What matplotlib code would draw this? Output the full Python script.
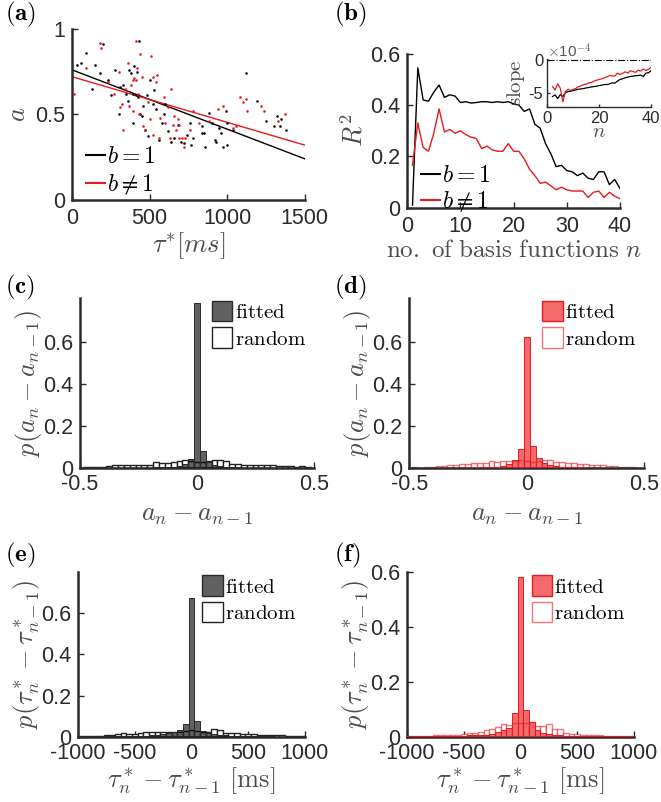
import numpy as np
import matplotlib
matplotlib.use("Agg")
import matplotlib.pyplot as plt
from matplotlib.patches import Patch
from matplotlib.lines import Line2D

plt.rcParams["mathtext.fontset"] = "cm"
plt.rcParams["font.family"] = ["Liberation Sans", "DejaVu Sans"]
plt.rcParams["axes.unicode_minus"] = False

TXT = "#2b2b2b"
LAB = "#4d4d4d"
RED = "#e8191f"

# ---- panel (a): scatter of a vs tau* ----
tau_b1 = [35, 60, 90, 150, 180, 130, 200, 230, 250, 280, 300, 310, 330, 350, 360, 370, 380, 390,
          395, 400, 410, 420, 425, 430, 440, 450, 460, 470, 480, 490, 500, 520, 530, 540, 560, 580,
          590, 600, 620, 640, 660, 680, 700, 720, 740, 760, 770, 780, 840, 850, 860, 880, 900, 920,
          930, 950, 960, 975, 990, 1000, 1040, 1120, 1190, 1250, 1300, 1320, 1340, 1350, 1380,
          1000, 840]
a_b1 = [0.79, 0.80, 0.86, 0.79, 0.74, 0.65, 0.91, 0.70, 0.61, 0.76, 0.50, 0.66, 0.67, 0.62, 0.58,
        0.76, 0.74, 0.62, 0.45, 0.78, 0.61, 0.75, 0.60, 0.93, 0.50, 0.49, 0.55, 0.41, 0.61, 0.37,
        0.70, 0.56, 0.64, 0.53, 0.35, 0.45, 0.50, 0.56, 0.40, 0.34, 0.36, 0.44, 0.34, 0.33, 0.38,
        0.45, 0.32, 0.36, 0.43, 0.39, 0.31, 0.51, 0.45, 0.35, 0.34, 0.42, 0.39, 0.31, 0.52, 0.32,
        0.41, 0.74, 0.58, 0.46, 0.43, 0.49, 0.43, 0.47, 0.41, 0.45, 0.39]
tau_bn = [10, 90, 180, 185, 230, 270, 300, 310, 320, 330, 340, 360, 370, 380, 390, 395, 400, 410,
          415, 420, 425, 430, 440, 450, 460, 470, 490, 500, 510, 520, 525, 540, 550, 560, 570, 590,
          600, 620, 630, 640, 650, 660, 670, 680, 690, 710, 720, 730, 760, 780, 820, 880, 940, 970,
          1060, 1080, 1100, 1120, 1130, 1220, 1240, 1330, 1370, 1040, 690]
a_bn = [0.62, 0.77, 0.92, 0.89, 0.69, 0.62, 0.75, 0.54, 0.56, 0.41, 0.65, 0.80, 0.55, 0.67, 0.52,
        0.70, 0.71, 0.70, 0.93, 0.77, 0.62, 0.50, 0.85, 0.72, 0.43, 0.41, 0.57, 0.47, 0.84, 0.38,
        0.72, 0.69, 0.73, 0.36, 0.48, 0.60, 0.45, 0.54, 0.36, 0.65, 0.44, 0.49, 0.41, 0.47, 0.44,
        0.36, 0.31, 0.36, 0.41, 0.52, 0.45, 0.46, 0.53, 0.55, 0.43, 0.60, 0.57, 0.59, 0.52, 0.55,
        0.52, 0.46, 0.50, 0.42, 0.36]
fit_b1 = [0.76, -0.000347]   # intercept, slope
fit_bn = [0.72, -0.000267]

# ---- panel (b): R^2 vs number of basis functions ----
n_basis = list(range(1, 41))
r2_b1 = [0.01, 0.545, 0.42, 0.415, 0.45, 0.478, 0.43, 0.44, 0.435, 0.41, 0.413, 0.408, 0.41, 0.413,
         0.413, 0.41, 0.413, 0.41, 0.413, 0.405, 0.40, 0.375, 0.385, 0.325, 0.31, 0.25, 0.21, 0.16,
         0.165, 0.145, 0.14, 0.125, 0.135, 0.115, 0.11, 0.14, 0.14, 0.09, 0.11, 0.075]
r2_bn = [0.165, 0.33, 0.235, 0.22, 0.29, 0.385, 0.295, 0.305, 0.29, 0.30, 0.285, 0.275, 0.27, 0.23,
         0.24, 0.225, 0.22, 0.22, 0.25, 0.22, 0.22, 0.19, 0.15, 0.125, 0.095, 0.10, 0.085, 0.07,
         0.08, 0.07, 0.065, 0.065, 0.065, 0.04, 0.06, 0.065, 0.04, 0.06, 0.045, 0.035]
# inset: slope (x 1e-4), n = 2..40
n_slope = list(range(2, 41))
slope_b1 = [-5.5, -5.25, -5.8, -5.2, -5.5, -4.9, -4.75, -4.7, -4.6, -4.5, -4.4, -4.35, -4.3, -4.2,
            -4.15, -4.05, -4.0, -3.95, -3.85, -3.8, -3.7, -3.7, -3.6, -3.45, -3.5, -3.2, -2.95,
            -2.85, -2.7, -2.6, -2.5, -2.45, -2.4, -2.35, -2.3, -2.5, -2.0, -1.95, -1.65]
slope_bn = [-4.0, -4.5, -3.6, -4.25, -6.3, -4.75, -4.4, -4.6, -4.4, -4.3, -4.0, -3.9, -3.7, -3.65,
            -3.45, -3.4, -3.2, -3.05, -2.95, -2.85, -2.7, -2.55, -2.35, -2.4, -2.45, -2.0, -2.2,
            -2.05, -1.8, -2.0, -1.65, -1.75, -1.9, -1.55, -1.7, -1.4, -1.6, -1.45, -1.15]

# ---- panels (c)-(f): histograms, bin index k = -20..20 (k=0 is the centre bin) ----
bin_k = list(range(-20, 21))
da_bin = 0.025
dtau_bin = 50.0
c_fit = ([0.002, 0.002, 0.002, 0.002, 0.002, 0.002, 0.003, 0.003, 0.003, 0.003,
          0.004, 0.004, 0.004, 0.005, 0.005, 0.006, 0.008, 0.012, 0.02, 0.045]
         + [0.785]
         + [0.08, 0.03, 0.015, 0.01, 0.007, 0.006, 0.005, 0.004, 0.004, 0.003,
            0.003, 0.003, 0.002, 0.002, 0.002, 0.002, 0.002, 0.002, 0.002, 0.002])
c_rand = [0.004, 0.005, 0.005, 0.006, 0.008, 0.012, 0.014, 0.018, 0.016, 0.018, 0.016, 0.014, 0.018,
          0.028, 0.024, 0.027, 0.030, 0.034, 0.038, 0.036, 0.030, 0.032, 0.034, 0.038, 0.038, 0.036,
          0.022, 0.020, 0.018, 0.016, 0.015, 0.016, 0.015, 0.016, 0.012, 0.010, 0.012, 0.008, 0.009,
          0.006, 0.004]
d_fit = ([0.002, 0.002, 0.002, 0.002, 0.002, 0.003, 0.003, 0.003, 0.003, 0.004,
          0.004, 0.005, 0.005, 0.006, 0.007, 0.008, 0.012, 0.02, 0.038, 0.09]
         + [0.625]
         + [0.105, 0.05, 0.025, 0.015, 0.01, 0.008, 0.006, 0.005, 0.005, 0.004,
            0.004, 0.003, 0.003, 0.003, 0.002, 0.002, 0.002, 0.002, 0.002, 0.002])
d_rand = [0.003, 0.005, 0.004, 0.006, 0.008, 0.009, 0.013, 0.014, 0.016, 0.019, 0.020, 0.027, 0.026,
          0.025, 0.036, 0.030, 0.037, 0.034, 0.036, 0.038, 0.035, 0.032, 0.036, 0.040, 0.038, 0.032,
          0.028, 0.025, 0.025, 0.022, 0.020, 0.014, 0.014, 0.014, 0.013, 0.010, 0.007, 0.006, 0.006,
          0.004, 0.003]
e_fit = ([0.002, 0.002, 0.002, 0.003, 0.003, 0.003, 0.003, 0.004, 0.004, 0.005,
          0.005, 0.006, 0.007, 0.008, 0.012, 0.015, 0.02, 0.025, 0.033, 0.065]
         + [0.675]
         + [0.078, 0.03, 0.02, 0.015, 0.01, 0.008, 0.006, 0.005, 0.005, 0.004,
            0.004, 0.003, 0.003, 0.003, 0.002, 0.002, 0.002, 0.002, 0.002, 0.002])
e_rand = [0.004, 0.005, 0.004, 0.006, 0.007, 0.010, 0.012, 0.013, 0.018, 0.014, 0.015, 0.018, 0.022,
          0.023, 0.025, 0.026, 0.026, 0.026, 0.023, 0.030, 0.036, 0.030, 0.024, 0.026, 0.040, 0.034,
          0.020, 0.020, 0.018, 0.016, 0.013, 0.013, 0.010, 0.010, 0.010, 0.010, 0.008, 0.006, 0.006,
          0.004, 0.003]
f_fit = ([0.002, 0.002, 0.002, 0.002, 0.003, 0.003, 0.003, 0.004, 0.004, 0.005,
          0.005, 0.006, 0.007, 0.008, 0.008, 0.012, 0.018, 0.027, 0.034, 0.087]
         + [0.58]
         + [0.10, 0.055, 0.027, 0.015, 0.01, 0.008, 0.006, 0.005, 0.005, 0.004,
            0.004, 0.003, 0.003, 0.003, 0.002, 0.002, 0.002, 0.002, 0.002, 0.002])
f_rand = [0.002, 0.003, 0.003, 0.005, 0.004, 0.008, 0.007, 0.008, 0.007, 0.008, 0.011, 0.013, 0.016,
          0.020, 0.025, 0.030, 0.035, 0.047, 0.043, 0.050, 0.050, 0.050, 0.055, 0.040, 0.040, 0.046,
          0.030, 0.030, 0.016, 0.012, 0.010, 0.008, 0.008, 0.007, 0.007, 0.005, 0.005, 0.004, 0.003,
          0.003, 0.002]

TICK_FS = 15.5
LAB_FS = 19


def style(ax, fs=TICK_FS):
    for s in ("top", "right"):
        ax.spines[s].set_visible(False)
    for s in ("left", "bottom"):
        ax.spines[s].set_color(TXT)
        ax.spines[s].set_linewidth(1.8)
    ax.tick_params(direction="in", length=4, width=1, colors=TXT, labelsize=fs)
    ax.tick_params(axis="x", pad=6)
    ax.tick_params(axis="y", pad=5)


def hist_panel(ax, k, width, fit, rand, face, edge, rand_edge):
    x = np.array(k) * width
    ax.bar(x, rand, width=width, facecolor="white", edgecolor=rand_edge, linewidth=1.0, zorder=2)
    ax.bar(x, fit, width=width, facecolor=face, edgecolor=edge, linewidth=0.7, zorder=3)
    h = [Patch(facecolor=face, edgecolor=edge), Patch(facecolor="white", edgecolor=rand_edge)]
    ax.legend(h, [r"$\mathrm{fitted}$", r"$\mathrm{random}$"], loc="upper right", frameon=False,
              fontsize=15, handlelength=1.0, handleheight=1.15, handletextpad=0.1,
              labelspacing=0.25, borderaxespad=0.0, bbox_to_anchor=(1.0, 1.03))


def render():
    fig = plt.figure(figsize=(6.61, 8.02), dpi=100)

    # (a)
    ax = fig.add_axes([0.109, 0.751, 0.352, 0.213])
    ax.scatter(tau_b1, a_b1, s=3.5, color="black", zorder=3, linewidths=0)
    ax.scatter(tau_bn, a_bn, s=3.5, color=RED, zorder=3, linewidths=0)
    xx = np.array([0, 1500])
    ax.plot(xx, fit_b1[0] + fit_b1[1] * xx, color="black", lw=1)
    ax.plot(xx, fit_bn[0] + fit_bn[1] * xx, color=RED, lw=1)
    ax.set_xlim(0, 1500)
    ax.set_ylim(0, 1)
    ax.set_xticks([0, 500, 1000, 1500])
    ax.set_yticks([0, 0.5, 1])
    ax.set_yticklabels(["0", "0.5", "1"])
    style(ax)
    ax.set_xlabel(r"$\tau^{*}[ms]$", fontsize=LAB_FS, color=LAB, labelpad=1)
    ax.set_ylabel(r"$a$", fontsize=LAB_FS, color=LAB, labelpad=4)
    hl = [Line2D([], [], color="black", lw=1.5), Line2D([], [], color=RED, lw=1.5)]
    ax.legend(hl, [r"$b=1$", r"$b\neq1$"], loc="lower left", frameon=False, fontsize=17,
              handlelength=0.8, handletextpad=0.1, labelspacing=0.2, borderaxespad=0.0,
              bbox_to_anchor=(0.02, -0.04))

    # (b)
    ax = fig.add_axes([0.616, 0.741, 0.322, 0.192])
    ax.plot(n_basis, r2_b1, color="black", lw=1)
    ax.plot(n_basis, r2_bn, color=RED, lw=1)
    ax.set_xlim(0, 40)
    ax.set_ylim(0, 0.6)
    ax.set_xticks([0, 10, 20, 30, 40])
    ax.set_yticks([0, 0.2, 0.4, 0.6])
    ax.set_yticklabels(["0", "0.2", "0.4", "0.6"])
    style(ax)
    ax.set_xlabel(r"$\mathrm{no.\ of\ basis\ functions}\ n$", fontsize=LAB_FS - 1, color=LAB,
                  labelpad=1)
    ax.set_ylabel(r"$R^2$", fontsize=LAB_FS, color=LAB, labelpad=2)
    ax.legend(hl, [r"$b=1$", r"$b\neq1$"], loc="lower left", frameon=False, fontsize=17,
              handlelength=0.8, handletextpad=0.1, labelspacing=0.1, borderaxespad=0.0,
              bbox_to_anchor=(0.02, -0.1))

    # inset
    ins = fig.add_axes([0.828, 0.867, 0.157, 0.059])
    ins.axhline(0, color="black", lw=0.8, ls="-.")
    ins.plot(n_slope, slope_b1, color="black", lw=0.9)
    ins.plot(n_slope, slope_bn, color=RED, lw=0.9)
    ins.set_xlim(0, 40)
    ins.set_ylim(-7.0, 0.05)
    ins.set_xticks([0, 20, 40])
    ins.set_yticks([-5, 0])
    ins.set_yticklabels(["-5", "0"])
    style(ins, fs=12)
    ins.spines["left"].set_linewidth(1.0)
    ins.spines["bottom"].set_linewidth(1.0)
    ins.tick_params(length=2.5)
    ins.tick_params(axis="x", pad=3)
    ins.tick_params(axis="y", pad=3)
    ins.set_xlabel(r"$n$", fontsize=15, color=LAB, labelpad=-3)
    ins.set_ylabel(r"$\mathrm{slope}$", fontsize=15, color=LAB, labelpad=1)
    ins.text(0.0, 0.98, r"$\times$10$^{-4}$", transform=ins.transAxes, fontsize=11,
             color="#555555", ha="left", va="bottom")

    red_face = (0.93, 0.10, 0.12, 0.65)
    red_rand = (0.93, 0.10, 0.12, 0.6)
    grey_face = (0.0, 0.0, 0.0, 0.62)

    # (c) / (d)
    for pos, fit, rand, face, edge, redge in [
            ([0.121, 0.416, 0.354, 0.213], c_fit, c_rand, grey_face, "#2a2a2a", "#222222"),
            ([0.619, 0.416, 0.356, 0.213], d_fit, d_rand, red_face, RED, red_rand)]:
        ax = fig.add_axes(pos)
        hist_panel(ax, bin_k, da_bin, fit, rand, face, edge, redge)
        ax.set_xlim(-0.5, 0.5)
        ax.set_ylim(0, 0.81)
        ax.set_xticks([-0.5, 0, 0.5])
        ax.set_xticklabels(["-0.5", "0", "0.5"])
        ax.set_yticks([0, 0.2, 0.4, 0.6])
        ax.set_yticklabels(["0", "0.2", "0.4", "0.6"])
        style(ax)
        ax.tick_params(axis="x", pad=4)
        ax.set_xlabel(r"$a_n - a_{n-1}$", fontsize=LAB_FS, color=LAB, labelpad=6)
        ax.set_ylabel(r"$p(a_n - a_{n-1})$", fontsize=LAB_FS, color=LAB, labelpad=-1)

    # (e) / (f)
    for pos, fit, rand, face, edge, redge, ymax in [
            ([0.118, 0.081, 0.343, 0.206], e_fit, e_rand, grey_face, "#2a2a2a", "#222222", 0.80),
            ([0.616, 0.081, 0.343, 0.206], f_fit, f_rand, red_face, RED, red_rand, 0.60)]:
        ax = fig.add_axes(pos)
        hist_panel(ax, bin_k, dtau_bin, fit, rand, face, edge, redge)
        ax.set_xlim(-1000, 1000)
        ax.set_ylim(0, ymax)
        ax.set_xticks([-1000, -500, 0, 500, 1000])
        ax.set_xticklabels(["-1000", "-500", "0", "500", "1000"])
        ax.set_yticks([0, 0.2, 0.4, 0.6])
        ax.set_yticklabels(["0", "0.2", "0.4", "0.6"])
        style(ax)
        ax.tick_params(axis="x", pad=4)
        ax.set_xlabel(r"$\tau^*_n - \tau^*_{n-1}\ [\mathrm{ms}]$", fontsize=LAB_FS, color=LAB,
                      labelpad=1)
        ax.set_ylabel(r"$p(\tau^*_n - \tau^*_{n-1})$", fontsize=LAB_FS, color=LAB, labelpad=-1)

    # panel letters
    for lab, x, y in [("(a)", 0.008, 0.982), ("(b)", 0.505, 0.982), ("(c)", 0.008, 0.642),
                      ("(d)", 0.505, 0.642), ("(e)", 0.008, 0.308), ("(f)", 0.505, 0.308)]:
        fig.text(x, y, r"$\mathbf{%s}$" % lab, fontsize=18, ha="left", va="center", color="black")

    fig.savefig("out.png", dpi=100)
    plt.close(fig)


if __name__ == "__main__":
    render()
